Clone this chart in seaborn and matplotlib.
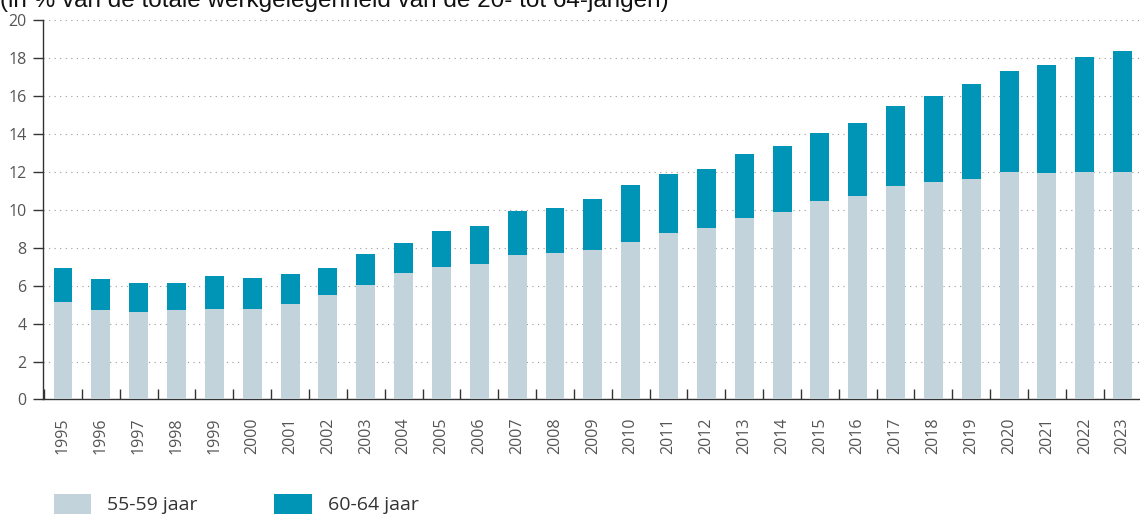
import numpy as np
import pandas as pd
import matplotlib
matplotlib.use("Agg")
import matplotlib.pyplot as plt
import seaborn as sns
from matplotlib.patches import Patch

years = [str(y) for y in range(1995, 2024)]
age_55_59 = [5.16, 4.73, 4.61, 4.71, 4.77, 4.79, 5.05, 5.52, 6.05, 6.69,
             6.98, 7.16, 7.60, 7.72, 7.86, 8.32, 8.76, 9.04, 9.59, 9.88,
             10.45, 10.70, 11.24, 11.47, 11.63, 11.98, 11.93, 11.98, 12.00]
age_60_64 = [1.75, 1.60, 1.53, 1.41, 1.76, 1.63, 1.58, 1.43, 1.64, 1.56,
             1.89, 1.99, 2.32, 2.36, 2.71, 2.96, 3.10, 3.09, 3.34, 3.49,
             3.57, 3.86, 4.21, 4.54, 4.99, 5.33, 5.71, 6.05, 6.35]
legend_labels = ["55-59 jaar", "60-64 jaar"]
title = "(in % van de totale werkgelegenheid van de 20- tot 64-jarigen)"

light = "#c3d3db"
dark = "#0094b6"

df = pd.DataFrame({"jaar": years, "a": age_55_59, "b": age_60_64})
df["totaal"] = df["a"] + df["b"]

sns.set_theme(style="white")
plt.rcParams["font.family"] = ["Open Sans", "DejaVu Sans"]

fig = plt.figure(figsize=(11.4, 5.14), dpi=100)
ax = fig.add_axes([0.0377, 0.2228, 0.962, 0.7383])

# dark bar = total, light bar drawn on top = 55-59 part
sns.barplot(data=df, x="jaar", y="totaal", color=dark, saturation=1,
            width=0.5, linewidth=0, ax=ax, zorder=3)
sns.barplot(data=df, x="jaar", y="a", color=light, saturation=1,
            width=0.5, linewidth=0, ax=ax, zorder=3)

ax.set_xlim(-0.53, 28.45)
ax.set_ylim(0, 20)
ax.set_yticks(range(0, 21, 2))
ax.set_xlabel("")
ax.set_ylabel("")

for y in range(2, 21, 2):
    ax.axhline(y, color="#9a9a9a", linewidth=0.8, linestyle=(0, (1, 4)), zorder=1)

ax.set_xticks(np.arange(-0.5, 28, 1), minor=True)
ax.tick_params(axis="x", which="both", bottom=True)
ax.tick_params(axis="y", which="both", left=True)
ax.tick_params(axis="x", which="major", length=0, pad=13, labelsize=11.5,
               labelrotation=90, labelcolor="#555555")
ax.tick_params(axis="x", which="minor", direction="in", length=7, width=1,
               color="#333333")
ax.tick_params(axis="y", which="major", direction="out", length=7, width=1,
               color="#333333", pad=5, labelsize=11.5, labelcolor="#555555")

for side in ["top", "right"]:
    ax.spines[side].set_visible(False)
for side in ["left", "bottom"]:
    ax.spines[side].set_color("#333333")
    ax.spines[side].set_linewidth(1)

fig.text(0.0, 1 - 7 / 514, title, family=["Liberation Sans", "DejaVu Sans"],
         fontsize=17.5, color="#111111", va="baseline", ha="left")

handles = [Patch(facecolor=light, edgecolor="none"),
           Patch(facecolor=dark, edgecolor="none")]
fig.legend(handles, legend_labels, loc="center left",
           bbox_to_anchor=(0.0316, 0.019), ncol=2, frameon=False,
           fontsize=14, handlelength=1.93, handleheight=1.2,
           handletextpad=0.82, columnspacing=3.96, labelcolor="#333333")

fig.savefig("out.png", dpi=100)
